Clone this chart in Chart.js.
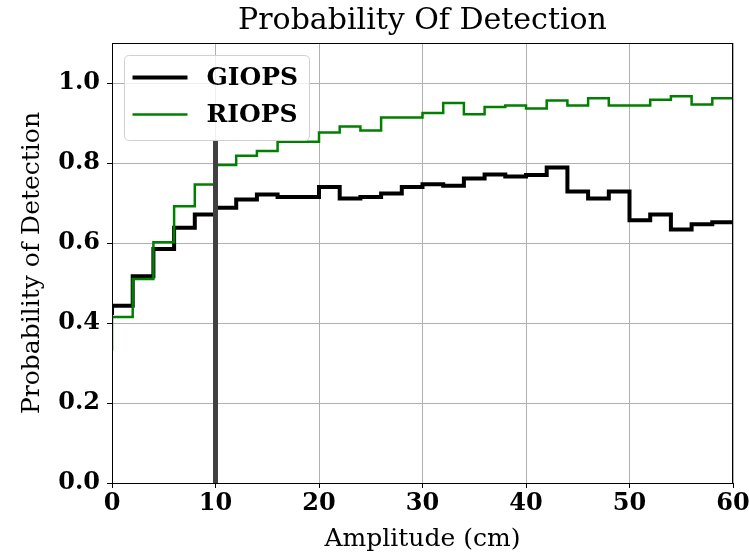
<!DOCTYPE html>
<html>
<head>
<meta charset="utf-8">
<script src="https://cdn.jsdelivr.net/npm/chart.js@4.4.1/dist/chart.umd.min.js"></script>
<style>
  html, body { margin: 0; padding: 0; background: #fff; }
  #wrap { width: 749px; height: 552px; position: relative; }
</style>
</head>
<body>
<div id="wrap"><canvas id="c" width="749" height="552"></canvas></div>
<script>
// Bin edges (cm); the first value of each series is the starting level at x = 0
const binEdges = [0, 2, 4, 6, 8, 10, 12, 14, 16, 18, 20, 22, 24, 26, 28, 30,
                  32, 34, 36, 38, 40, 42, 44, 46, 48, 50, 52, 54, 56, 58, 60];
const giops = [0.42, 0.443, 0.517, 0.585, 0.638, 0.671, 0.688, 0.709, 0.721, 0.715, 0.715,
               0.740, 0.711, 0.715, 0.724, 0.740, 0.747, 0.743, 0.761, 0.771, 0.766,
               0.770, 0.789, 0.729, 0.711, 0.729, 0.657, 0.671, 0.634, 0.647, 0.652];
const riops = [0.33, 0.415, 0.510, 0.602, 0.692, 0.746, 0.795, 0.818, 0.830, 0.853, 0.853,
               0.876, 0.891, 0.881, 0.914, 0.914, 0.925, 0.950, 0.922, 0.940, 0.944,
               0.936, 0.956, 0.944, 0.962, 0.944, 0.944, 0.958, 0.967, 0.946, 0.962];
const thresholdX = [10, 10];
const thresholdY = [0, 0.857];
const xTicks = [0, 10, 20, 30, 40, 50, 60];
const yTicks = [0.0, 0.2, 0.4, 0.6, 0.8, 1.0];
const seriesNames = ['GIOPS', 'RIOPS'];

const SERIF = '"DejaVu Serif", serif';

const pts = (xs, ys) => xs.map((x, i) => ({ x: x, y: ys[i] }));

const frameAndLegend = {
  id: 'frameAndLegend',
  afterDatasetsDraw(chart) {
    const { ctx, chartArea: a } = chart;
    ctx.save();
    // axes frame
    ctx.strokeStyle = '#000';
    ctx.lineWidth = 1;
    ctx.strokeRect(a.left + 0.5, a.top + 0.5, a.right - a.left - 1, a.bottom - a.top);
    // legend box
    const bx = a.left + 12.5, by = a.top + 12.5, bw = 185, bh = 85, r = 5;
    ctx.beginPath();
    ctx.moveTo(bx + r, by);
    ctx.lineTo(bx + bw - r, by);
    ctx.quadraticCurveTo(bx + bw, by, bx + bw, by + r);
    ctx.lineTo(bx + bw, by + bh - r);
    ctx.quadraticCurveTo(bx + bw, by + bh, bx + bw - r, by + bh);
    ctx.lineTo(bx + r, by + bh);
    ctx.quadraticCurveTo(bx, by + bh, bx, by + bh - r);
    ctx.lineTo(bx, by + r);
    ctx.quadraticCurveTo(bx, by, bx + r, by);
    ctx.closePath();
    ctx.fillStyle = 'rgba(255,255,255,0.8)';
    ctx.fill();
    ctx.strokeStyle = '#d0d0d0';
    ctx.lineWidth = 1;
    ctx.stroke();
    seriesNames.forEach((name, i) => {
      const d = chart.data.datasets.find(ds => ds.label === name);
      const y = by + 22 + i * 37;
      ctx.strokeStyle = d.borderColor;
      ctx.lineWidth = d.borderWidth;
      ctx.beginPath();
      ctx.moveTo(bx + 8, y);
      ctx.lineTo(bx + 63, y);
      ctx.stroke();
      ctx.fillStyle = '#000';
      ctx.font = 'bold 25px ' + SERIF;
      ctx.textBaseline = 'middle';
      ctx.textAlign = 'left';
      ctx.fillText(d.label, bx + 82, y + 1);
    });
    ctx.restore();
  }
};

new Chart(document.getElementById('c'), {
  type: 'line',
  data: {
    datasets: [
      {
        label: 'threshold',
        data: pts(thresholdX, thresholdY),
        borderColor: '#404040',
        borderWidth: 5,
        pointRadius: 0,
        order: 0
      },
      {
        label: seriesNames[1],
        data: pts(binEdges, riops),
        borderColor: '#008000',
        borderWidth: 2.5,
        pointRadius: 0,
        stepped: 'after',
        order: 1
      },
      {
        label: seriesNames[0],
        data: pts(binEdges, giops),
        borderColor: '#000000',
        borderWidth: 4,
        pointRadius: 0,
        stepped: 'after',
        order: 2
      }
    ]
  },
  options: {
    responsive: false,
    animation: false,
    layout: { padding: { left: 0, right: 16, top: 0, bottom: 0 } },
    plugins: {
      legend: { display: false },
      tooltip: { enabled: false },
      title: {
        display: true,
        fullSize: false,
        text: 'Probability Of Detection',
        color: '#000',
        font: { family: SERIF, size: 30, weight: 'normal', lineHeight: 1.2 },
        padding: { top: 3, bottom: 4 }
      }
    },
    scales: {
      x: {
        type: 'linear',
        min: 0,
        max: 60,
        afterBuildTicks(s) { s.ticks = xTicks.map(v => ({ value: v })); },
        afterFit(s) { s.height = 69; s.paddingLeft = 0; s.paddingRight = 0; },
        grid: { color: '#b0b0b0', lineWidth: 1, tickColor: '#000', tickLength: 5, drawTicks: true },
        border: { display: true, color: '#000', width: 1 },
        ticks: {
          color: '#000',
          font: { family: SERIF, size: 24, weight: 'bold' },
          padding: 1,
          maxRotation: 0,
          callback: v => String(v)
        },
        title: {
          display: true,
          text: 'Amplitude (cm)',
          color: '#000',
          font: { family: SERIF, size: 25, weight: 'normal', lineHeight: 1.0 },
          padding: { top: 0, bottom: 0 }
        }
      },
      y: {
        type: 'linear',
        min: 0,
        max: 1.1,
        afterBuildTicks(s) { s.ticks = yTicks.map(v => ({ value: v })); },
        afterFit(s) { s.width = 112; },
        grid: { color: '#b0b0b0', lineWidth: 1, tickColor: '#000', tickLength: 5, drawTicks: true },
        border: { display: true, color: '#000', width: 1 },
        ticks: {
          color: '#000',
          font: { family: SERIF, size: 24, weight: 'bold' },
          padding: 7,
          callback: v => v.toFixed(1)
        },
        title: {
          display: true,
          text: 'Probability of Detection',
          color: '#000',
          font: { family: SERIF, size: 25, weight: 'normal', lineHeight: 1.0 },
          padding: { top: 20, bottom: 0 }
        }
      }
    }
  },
  plugins: [frameAndLegend]
});
</script>
</body>
</html>
